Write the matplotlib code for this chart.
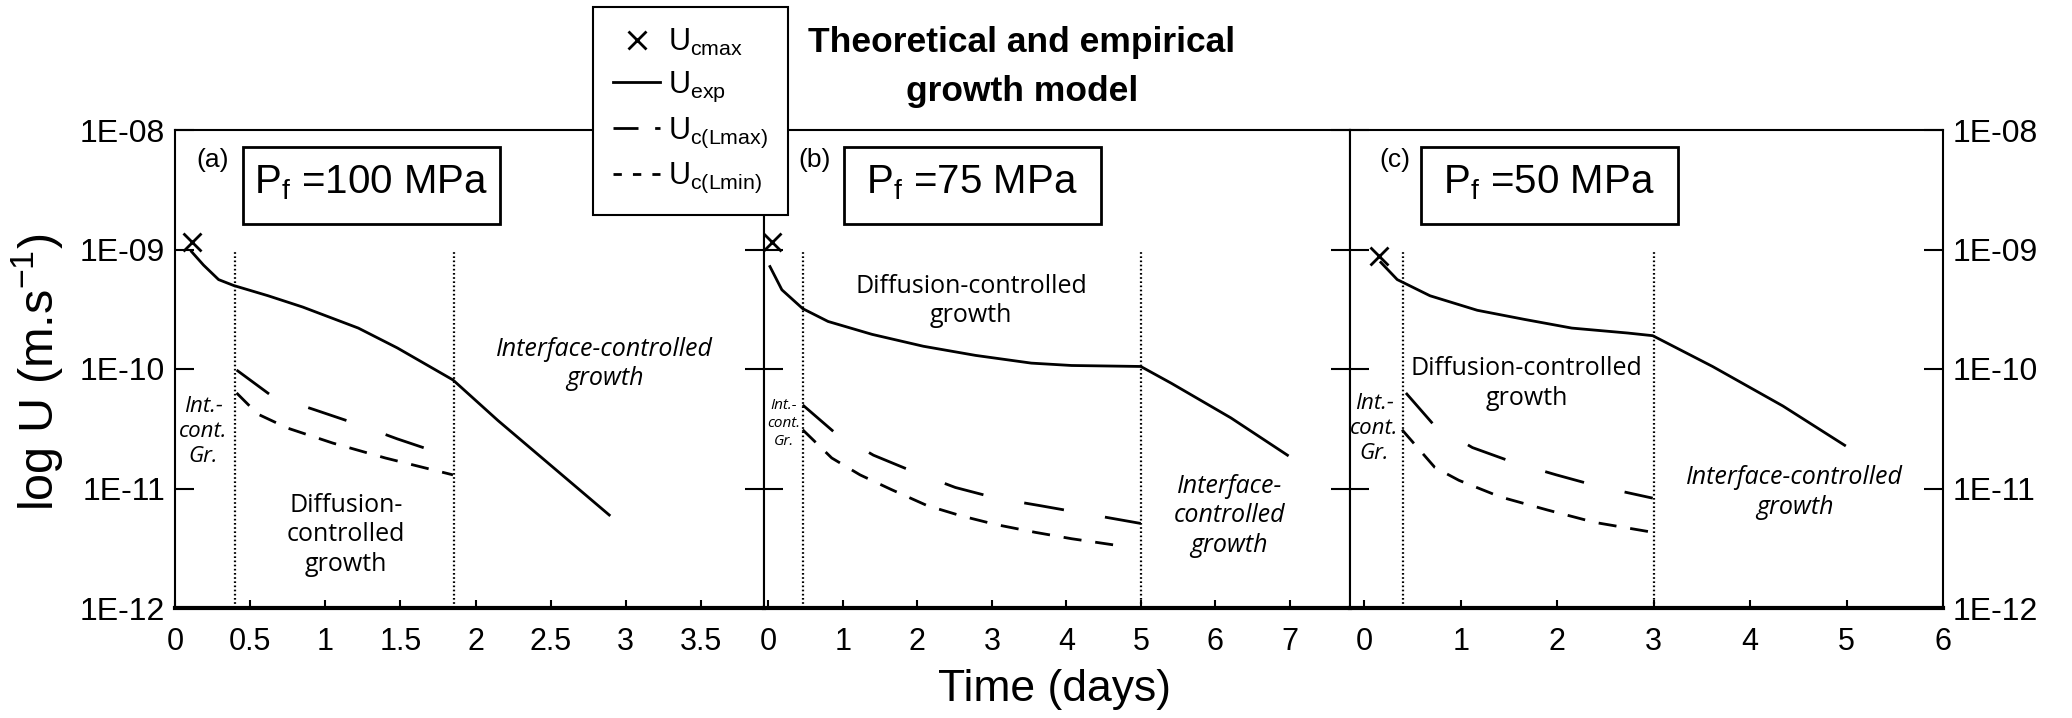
import matplotlib
matplotlib.use("Agg")
import matplotlib.pyplot as plt
from matplotlib.lines import Line2D
from matplotlib.patches import Rectangle
from matplotlib.ticker import FixedLocator, FixedFormatter, NullLocator

plt.rcParams["font.family"] = ["Liberation Sans", "DejaVu Sans"]
plt.rcParams["mathtext.fontset"] = "custom"
plt.rcParams["mathtext.rm"] = "Liberation Sans"
plt.rcParams["lines.scale_dashes"] = False

# growth rates U (m/s) against time (days), one set per fluid pressure
# Pf = 100 MPa
t_cmax_100 = [0.11]
u_cmax_100 = [1.15e-9]
t_exp_100 = [0.11, 0.19, 0.29, 0.39, 0.62, 0.85, 1.22, 1.48, 1.85, 2.15, 2.89]
u_exp_100 = [9.6e-10, 7.4e-10, 5.6e-10, 5.0e-10, 4.1e-10, 3.3e-10, 2.2e-10,
             1.5e-10, 8.1e-11, 3.7e-11, 6.0e-12]
t_lmax_100 = [0.41, 0.64, 0.92, 1.20, 1.48, 1.75]
u_lmax_100 = [9.8e-11, 6.0e-11, 4.6e-11, 3.5e-11, 2.6e-11, 2.0e-11]
t_lmin_100 = [0.41, 0.55, 0.75, 1.05, 1.40, 1.85]
u_lmin_100 = [6.3e-11, 4.2e-11, 3.2e-11, 2.4e-11, 1.8e-11, 1.3e-11]
bounds_100 = [0.4, 1.86]

# Pf = 75 MPa
t_cmax_75 = [0.05]
u_cmax_75 = [1.15e-9]
t_exp_75 = [0.02, 0.18, 0.46, 0.80, 1.39, 2.08, 2.78, 3.53, 4.07, 5.00, 5.41,
            6.21, 6.97]
u_exp_75 = [7.2e-10, 4.6e-10, 3.2e-10, 2.5e-10, 1.95e-10, 1.55e-10, 1.3e-10,
            1.12e-10, 1.07e-10, 1.05e-10, 7.6e-11, 3.9e-11, 1.9e-11]
t_lmax_75 = [0.46, 0.90, 1.41, 1.95, 2.51, 3.06, 3.64, 5.00]
u_lmax_75 = [5.0e-11, 2.9e-11, 1.9e-11, 1.38e-11, 1.02e-11, 8.3e-12, 7.2e-12,
             5.1e-12]
t_lmin_75 = [0.46, 0.85, 1.23, 1.65, 2.13, 2.59, 3.05, 3.58, 4.07, 4.74]
u_lmin_75 = [3.1e-11, 1.8e-11, 1.3e-11, 9.8e-12, 7.2e-12, 5.9e-12, 5.0e-12,
             4.3e-12, 3.8e-12, 3.3e-12]
bounds_75 = [0.46, 5.0]

# Pf = 50 MPa
t_cmax_50 = [0.15]
u_cmax_50 = [8.9e-10]
t_exp_50 = [0.17, 0.34, 0.68, 1.17, 1.66, 2.15, 2.73, 2.99, 3.61, 4.34, 4.98]
u_exp_50 = [7.8e-10, 5.6e-10, 4.1e-10, 3.1e-10, 2.6e-10, 2.2e-10, 2.0e-10,
            1.9e-10, 1.05e-10, 4.9e-11, 2.3e-11]
t_lmax_50 = [0.43, 0.72, 1.12, 1.54, 1.99, 2.41, 2.99]
u_lmax_50 = [6.3e-11, 3.4e-11, 2.2e-11, 1.66e-11, 1.3e-11, 1.05e-11, 8.3e-12]
t_lmin_50 = [0.39, 0.73, 0.98, 1.41, 1.90, 2.39, 2.99]
u_lmin_50 = [3.1e-11, 1.5e-11, 1.17e-11, 8.5e-12, 6.6e-12, 5.2e-12, 4.3e-12]
bounds_50 = [0.4, 3.0]

panel_tags = ["(a)", "(b)", "(c)"]
tag_t = [0.25, 0.62, 0.32]
pressures = ["100", "75", "50"]
xticks_100 = [0, 0.5, 1, 1.5, 2, 2.5, 3, 3.5]
xticks_75 = [0, 1, 2, 3, 4, 5, 6, 7]
xticks_50 = [0, 1, 2, 3, 4, 5, 6]
yticks = [1e-12, 1e-11, 1e-10, 1e-9, 1e-8]
ytick_labels = ["1E-12", "1E-11", "1E-10", "1E-09", "1E-08"]

W, H = 2072, 718
fig = plt.figure(figsize=(W / 100, H / 100), dpi=100)

# panel frames in pixels: left, right edges; shared top/bottom
edges = [(175, 764), (764, 1350), (1350, 1943)]
top, bottom = 130, 608
xlims = [(0, 3.92), (-0.06, 7.81), (-0.15, 6.0)]

LMAX = (0, (29, 30))
LMIN = (0, (13, 10))
DOT = (0, (1.2, 1.8))

panels = [
    (t_cmax_100, u_cmax_100, t_exp_100, u_exp_100, t_lmax_100, u_lmax_100,
     t_lmin_100, u_lmin_100, bounds_100, xticks_100),
    (t_cmax_75, u_cmax_75, t_exp_75, u_exp_75, t_lmax_75, u_lmax_75,
     t_lmin_75, u_lmin_75, bounds_75, xticks_75),
    (t_cmax_50, u_cmax_50, t_exp_50, u_exp_50, t_lmax_50, u_lmax_50,
     t_lmin_50, u_lmin_50, bounds_50, xticks_50),
]

axes = []
for i, (tc, uc, te, ue, tx, ux, tn, un, bnd, xt) in enumerate(panels):
    l, r = edges[i]
    ax = fig.add_axes([l / W, 1 - bottom / H, (r - l) / W, (bottom - top) / H])
    ax.set_yscale("log")
    ax.set_ylim(1e-12, 1e-8)
    ax.set_xlim(*xlims[i])

    ax.vlines(bnd, 1e-12, 1e-9, colors="k", linestyles=DOT, lw=1.6)
    ax.plot(te, ue, color="k", lw=2)
    ax.plot(tx, ux, color="k", lw=2, linestyle=LMAX)
    ax.plot(tn, un, color="k", lw=2, linestyle=LMIN)
    ax.plot(tc, uc, "x", color="k", ms=13, mew=2)

    ax.yaxis.set_major_locator(FixedLocator(yticks))
    ax.yaxis.set_major_formatter(FixedFormatter(ytick_labels))
    ax.yaxis.set_minor_locator(NullLocator())
    ax.tick_params(axis="y", direction="in", length=14, width=1.5,
                   left=True, right=True, labelleft=(i == 0),
                   labelright=(i == 2), labelsize=23, pad=7)
    ax.xaxis.set_major_locator(FixedLocator(xt))
    ax.set_xticklabels([f"{v:g}" for v in xt])
    ax.tick_params(axis="x", direction="in", length=6, width=1.5,
                   labelsize=22, pad=14)
    for s in ax.spines.values():
        s.set_linewidth(1.5)
    ax.spines["bottom"].set_linewidth(3)

    ax.text(tag_t[i], 10 ** -8.25, panel_tags[i], fontsize=19,
            ha="center", va="center")
    axes.append(ax)

# boxes with the fluid pressure
box_left = [0.115, 0.136, 0.119]
for i, ax in enumerate(axes):
    bw = 257 / (edges[i][1] - edges[i][0])
    bh = 77 / (bottom - top)
    ax.add_patch(Rectangle((box_left[i], 0.965 - bh), bw, bh,
                           transform=ax.transAxes, fill=False, lw=2,
                           ec="k", zorder=5))
    ax.text(box_left[i] + bw / 2, 0.965 - bh / 2 + 0.005,
            r"P$_{\mathrm{f}}$ =" + pressures[i] + " MPa",
            transform=ax.transAxes, ha="center", va="center", fontsize=29)

ital = dict(family=["Open Sans", "DejaVu Sans"], style="italic", ha="center",
            va="center", linespacing=1.25)
reg = dict(family=["Open Sans", "DejaVu Sans"], ha="center", va="center",
           linespacing=1.25)

a, b, c = axes
a.text(2.86, 1.1e-10, "Interface-controlled\ngrowth", fontsize=18, **ital)
a.text(0.19, 3.0e-11, "Int.-\ncont.\nGr.", fontsize=16, **ital)
a.text(1.14, 4.1e-12, "Diffusion-\ncontrolled\ngrowth", fontsize=18, **reg)

b.text(2.72, 3.7e-10, "Diffusion-controlled\ngrowth", fontsize=18, **reg)
b.text(0.21, 3.5e-11, "Int.-\ncont.\nGr.", fontsize=11, **ital)
b.text(6.19, 5.9e-12, "Interface-\ncontrolled\ngrowth", fontsize=18, **ital)

c.text(1.68, 7.6e-11, "Diffusion-controlled\ngrowth", fontsize=18, **reg)
c.text(0.10, 3.2e-11, "Int.-\ncont.\nGr.", fontsize=16, **ital)
c.text(4.46, 9.3e-12, "Interface-controlled\ngrowth", fontsize=18, **ital)

fig.text(37 / W, 1 - 372 / H, r"log U (m.s$^{\mathrm{-1}}$)", rotation=90,
         ha="center", va="center", fontsize=35)
fig.text(1055 / W, 1 - 690 / H, "Time (days)", ha="center", va="center",
         fontsize=32)
fig.text(1022 / W, 1 - 67 / H, "Theoretical and empirical\ngrowth model",
         ha="center", va="center", fontsize=25.5, fontweight="bold",
         linespacing=1.6)

handles = [
    Line2D([], [], color="k", marker="x", ls="none", ms=13, mew=2),
    Line2D([], [], color="k", lw=2),
    Line2D([], [], color="k", lw=2, linestyle=(0, (18, 12))),
    Line2D([], [], color="k", lw=2, linestyle=(0, (6, 8))),
]
labels = [r"U$_{\mathrm{cmax}}$", r"U$_{\mathrm{exp}}$",
          r"U$_{\mathrm{c(Lmax)}}$", r"U$_{\mathrm{c(Lmin)}}$"]
leg = fig.legend(handles, labels, loc="upper left",
                 bbox_to_anchor=(593 / W, 1 - 7 / H), fontsize=22,
                 handlelength=1.55, handletextpad=0.25, borderpad=0.65,
                 labelspacing=0.38, fancybox=False, framealpha=1,
                 edgecolor="k", borderaxespad=0)
leg.get_frame().set_linewidth(1.5)

fig.savefig("out.png", dpi=100)
